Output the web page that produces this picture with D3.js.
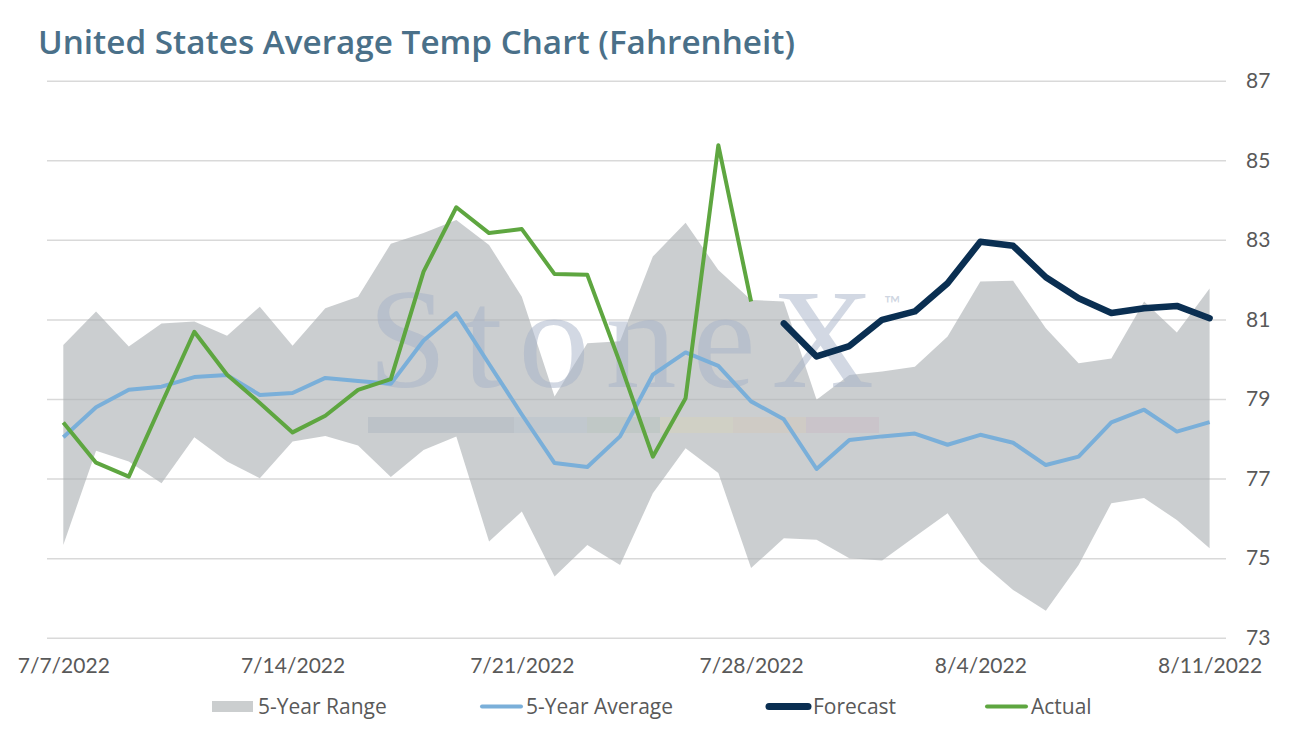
<!DOCTYPE html>
<html>
<head>
<meta charset="utf-8">
<title>United States Average Temp Chart</title>
<style>
  body { margin: 0; background: #fff; }
  svg { display: block; font-family: Lato, "Open Sans", sans-serif; }
</style>
</head>
<body>
<svg></svg>
<script src="https://cdnjs.cloudflare.com/ajax/libs/d3/7.8.5/d3.min.js"></script>
<script>
// daily categories, 7/7/2022 .. 8/11/2022
var dates = ["7/7/2022","7/8/2022","7/9/2022","7/10/2022","7/11/2022","7/12/2022","7/13/2022",
  "7/14/2022","7/15/2022","7/16/2022","7/17/2022","7/18/2022","7/19/2022","7/20/2022",
  "7/21/2022","7/22/2022","7/23/2022","7/24/2022","7/25/2022","7/26/2022","7/27/2022",
  "7/28/2022","7/29/2022","7/30/2022","7/31/2022","8/1/2022","8/2/2022","8/3/2022",
  "8/4/2022","8/5/2022","8/6/2022","8/7/2022","8/8/2022","8/9/2022","8/10/2022","8/11/2022"];

// 5-year range (high / low)
var rangeHigh = [80.36,81.2,80.32,80.9,80.95,80.59,81.32,80.34,81.28,81.57,82.9,83.17,83.5,82.87,
  81.57,79.06,80.4,80.45,82.58,83.43,82.24,81.49,81.45,78.98,79.6,79.69,79.81,80.57,
  81.95,81.97,80.78,79.9,80.02,81.45,80.67,81.78];
var rangeLow = [75.33,77.7,77.43,76.88,78.04,77.43,77.01,77.93,78.07,77.83,77.04,77.72,78.06,75.42,
  76.17,74.54,75.33,74.83,76.63,77.76,77.14,74.75,75.5,75.46,75.0,74.94,75.54,76.13,
  74.91,74.2,73.68,74.83,76.38,76.51,75.96,75.25];

// 5-year average
var avg5 = [78.04,78.79,79.23,79.31,79.55,79.6,79.1,79.15,79.53,79.45,79.38,80.47,81.16,79.88,
  78.61,77.39,77.29,78.06,79.61,80.17,79.83,78.94,78.49,77.24,77.97,78.06,78.13,77.85,
  78.1,77.9,77.34,77.55,78.41,78.73,78.18,78.42];

// actual observations (end 7/28) and forecast (from 7/29)
var actual = [78.41,77.4,77.05,78.88,80.69,79.61,78.9,78.16,78.58,79.23,79.5,82.2,83.82,83.17,
  83.27,82.14,82.12,79.9,77.55,79.02,85.38,81.45,null,null,null,null,null,null,
  null,null,null,null,null,null,null,null];
var forecast = [null,null,null,null,null,null,null,null,null,null,null,null,null,null,
  null,null,null,null,null,null,null,null,80.9,80.07,80.33,80.99,81.2,81.91,
  82.95,82.85,82.06,81.53,81.16,81.28,81.34,81.03];

var xTickLabels = ["7/7/2022","7/14/2022","7/21/2022","7/28/2022","8/4/2022","8/11/2022"];
var yTicks = [73,75,77,79,81,83,85,87];

var parse = d3.timeParse("%m/%d/%Y");
var days = dates.map(parse);

var W = 1300, H = 731;
var svg = d3.select("svg").attr("width", W).attr("height", H);

var x = d3.scaleTime().domain([days[0], days[days.length - 1]]).range([63.3, 1209.6]);
var y = d3.scaleLinear().domain([73, 87]).range([637.7, 80.7]);

// title
svg.append("text")
  .attr("x", 38).attr("y", 54)
  .attr("font-family", "'Open Sans', sans-serif")
  .attr("font-size", 33).attr("font-weight", 600)
  .attr("textLength", 757).attr("lengthAdjust", "spacingAndGlyphs")
  .attr("fill", "#4a7089")
  .text("United States Average Temp Chart (Fahrenheit)");

// horizontal gridlines + right value labels
var gridAxis = svg.append("g")
  .attr("transform", "translate(1226,0)")
  .call(d3.axisRight(y).tickValues(yTicks).tickSize(-1179).tickPadding(20));
gridAxis.select(".domain").remove();
gridAxis.selectAll("line").attr("stroke", "#d9d9d9").attr("stroke-width", 1.5);
gridAxis.selectAll("text").attr("font-size", 21).attr("fill", "#595959")
  .attr("font-family", "Lato, sans-serif");

// x axis labels
var xAxis = svg.append("g")
  .attr("transform", "translate(0,637.7)")
  .call(d3.axisBottom(x).tickValues(xTickLabels.map(parse)).tickSize(0).tickPadding(20)
    .tickFormat(d3.timeFormat("%-m/%-d/%Y")));
xAxis.select(".domain").remove();
xAxis.selectAll("text").attr("font-size", 21).attr("fill", "#595959")
  .attr("font-family", "Lato, sans-serif");

// 5-year range band
var band = d3.area()
  .x(function(d, i) { return x(days[i]); })
  .y0(function(d, i) { return y(rangeLow[i]); })
  .y1(function(d, i) { return y(rangeHigh[i]); });
svg.append("path").datum(rangeHigh)
  .attr("d", band)
  .attr("fill", "rgb(172,177,180)")
  .attr("fill-opacity", 0.63);

// watermark
var wm = svg.append("g").attr("class", "watermark");
wm.append("text")
  .attr("x", 368).attr("y", 387)
  .attr("font-family", "'Liberation Serif', 'DejaVu Serif', serif")
  .attr("font-size", 142)
  .attr("textLength", 506).attr("lengthAdjust", "spacing")
  .attr("fill", "rgb(165,178,200)").attr("fill-opacity", 0.5)
  .text("StoneX");
wm.append("text")
  .attr("x", 884).attr("y", 312)
  .attr("font-size", 22)
  .attr("fill", "rgb(165,178,200)").attr("fill-opacity", 0.55)
  .text("\u2122");
var wmColors = ["#98a5b5", "#98a5b5", "#a8bac8", "#a5bcae", "#ddd6a8", "#dcc6aa", "#c9aeb9"];
wm.selectAll("rect").data(wmColors).enter().append("rect")
  .attr("x", function(d, i) { return 368 + i * 73; })
  .attr("y", 417).attr("width", 73).attr("height", 16)
  .attr("fill", function(d) { return d; })
  .attr("fill-opacity", 0.28);

// series lines
function seriesLine(values) {
  return d3.line()
    .defined(function(d) { return d !== null; })
    .x(function(d, i) { return x(days[i]); })
    .y(function(d) { return y(d); })(values);
}

svg.append("path")
  .attr("d", seriesLine(avg5))
  .attr("fill", "none").attr("stroke", "#7aafd9").attr("stroke-width", 4)
  .attr("stroke-linejoin", "round");

svg.append("path")
  .attr("d", seriesLine(forecast))
  .attr("fill", "none").attr("stroke", "#0a2f52").attr("stroke-width", 6.5)
  .attr("stroke-linejoin", "round").attr("stroke-linecap", "round");

svg.append("path")
  .attr("d", seriesLine(actual))
  .attr("fill", "none").attr("stroke", "#5ea640").attr("stroke-width", 4)
  .attr("stroke-linejoin", "round");

// legend
var legend = [
  { name: "5-Year Range", type: "rect", color: "#cbcecf", x: 212 },
  { name: "5-Year Average", type: "line", color: "#7aafd9", w: 4, x: 480 },
  { name: "Forecast", type: "line", color: "#0a2f52", w: 7, x: 767 },
  { name: "Actual", type: "line", color: "#5ea640", w: 4, x: 985 }
];
var ly = 706.5;
legend.forEach(function(item) {
  if (item.type === "rect") {
    svg.append("rect").attr("x", item.x).attr("y", ly - 5.5)
      .attr("width", 41).attr("height", 11).attr("fill", item.color);
  } else {
    svg.append("line").attr("x1", item.x + 2).attr("x2", item.x + 41)
      .attr("y1", ly).attr("y2", ly)
      .attr("stroke", item.color).attr("stroke-width", item.w)
      .attr("stroke-linecap", "round");
  }
  svg.append("text").attr("x", item.x + 46).attr("y", ly).attr("dy", "0.35em")
    .attr("font-family", "'Open Sans', sans-serif")
    .attr("font-size", 21).attr("fill", "#595959")
    .text(item.name);
});
</script>
</body>
</html>
